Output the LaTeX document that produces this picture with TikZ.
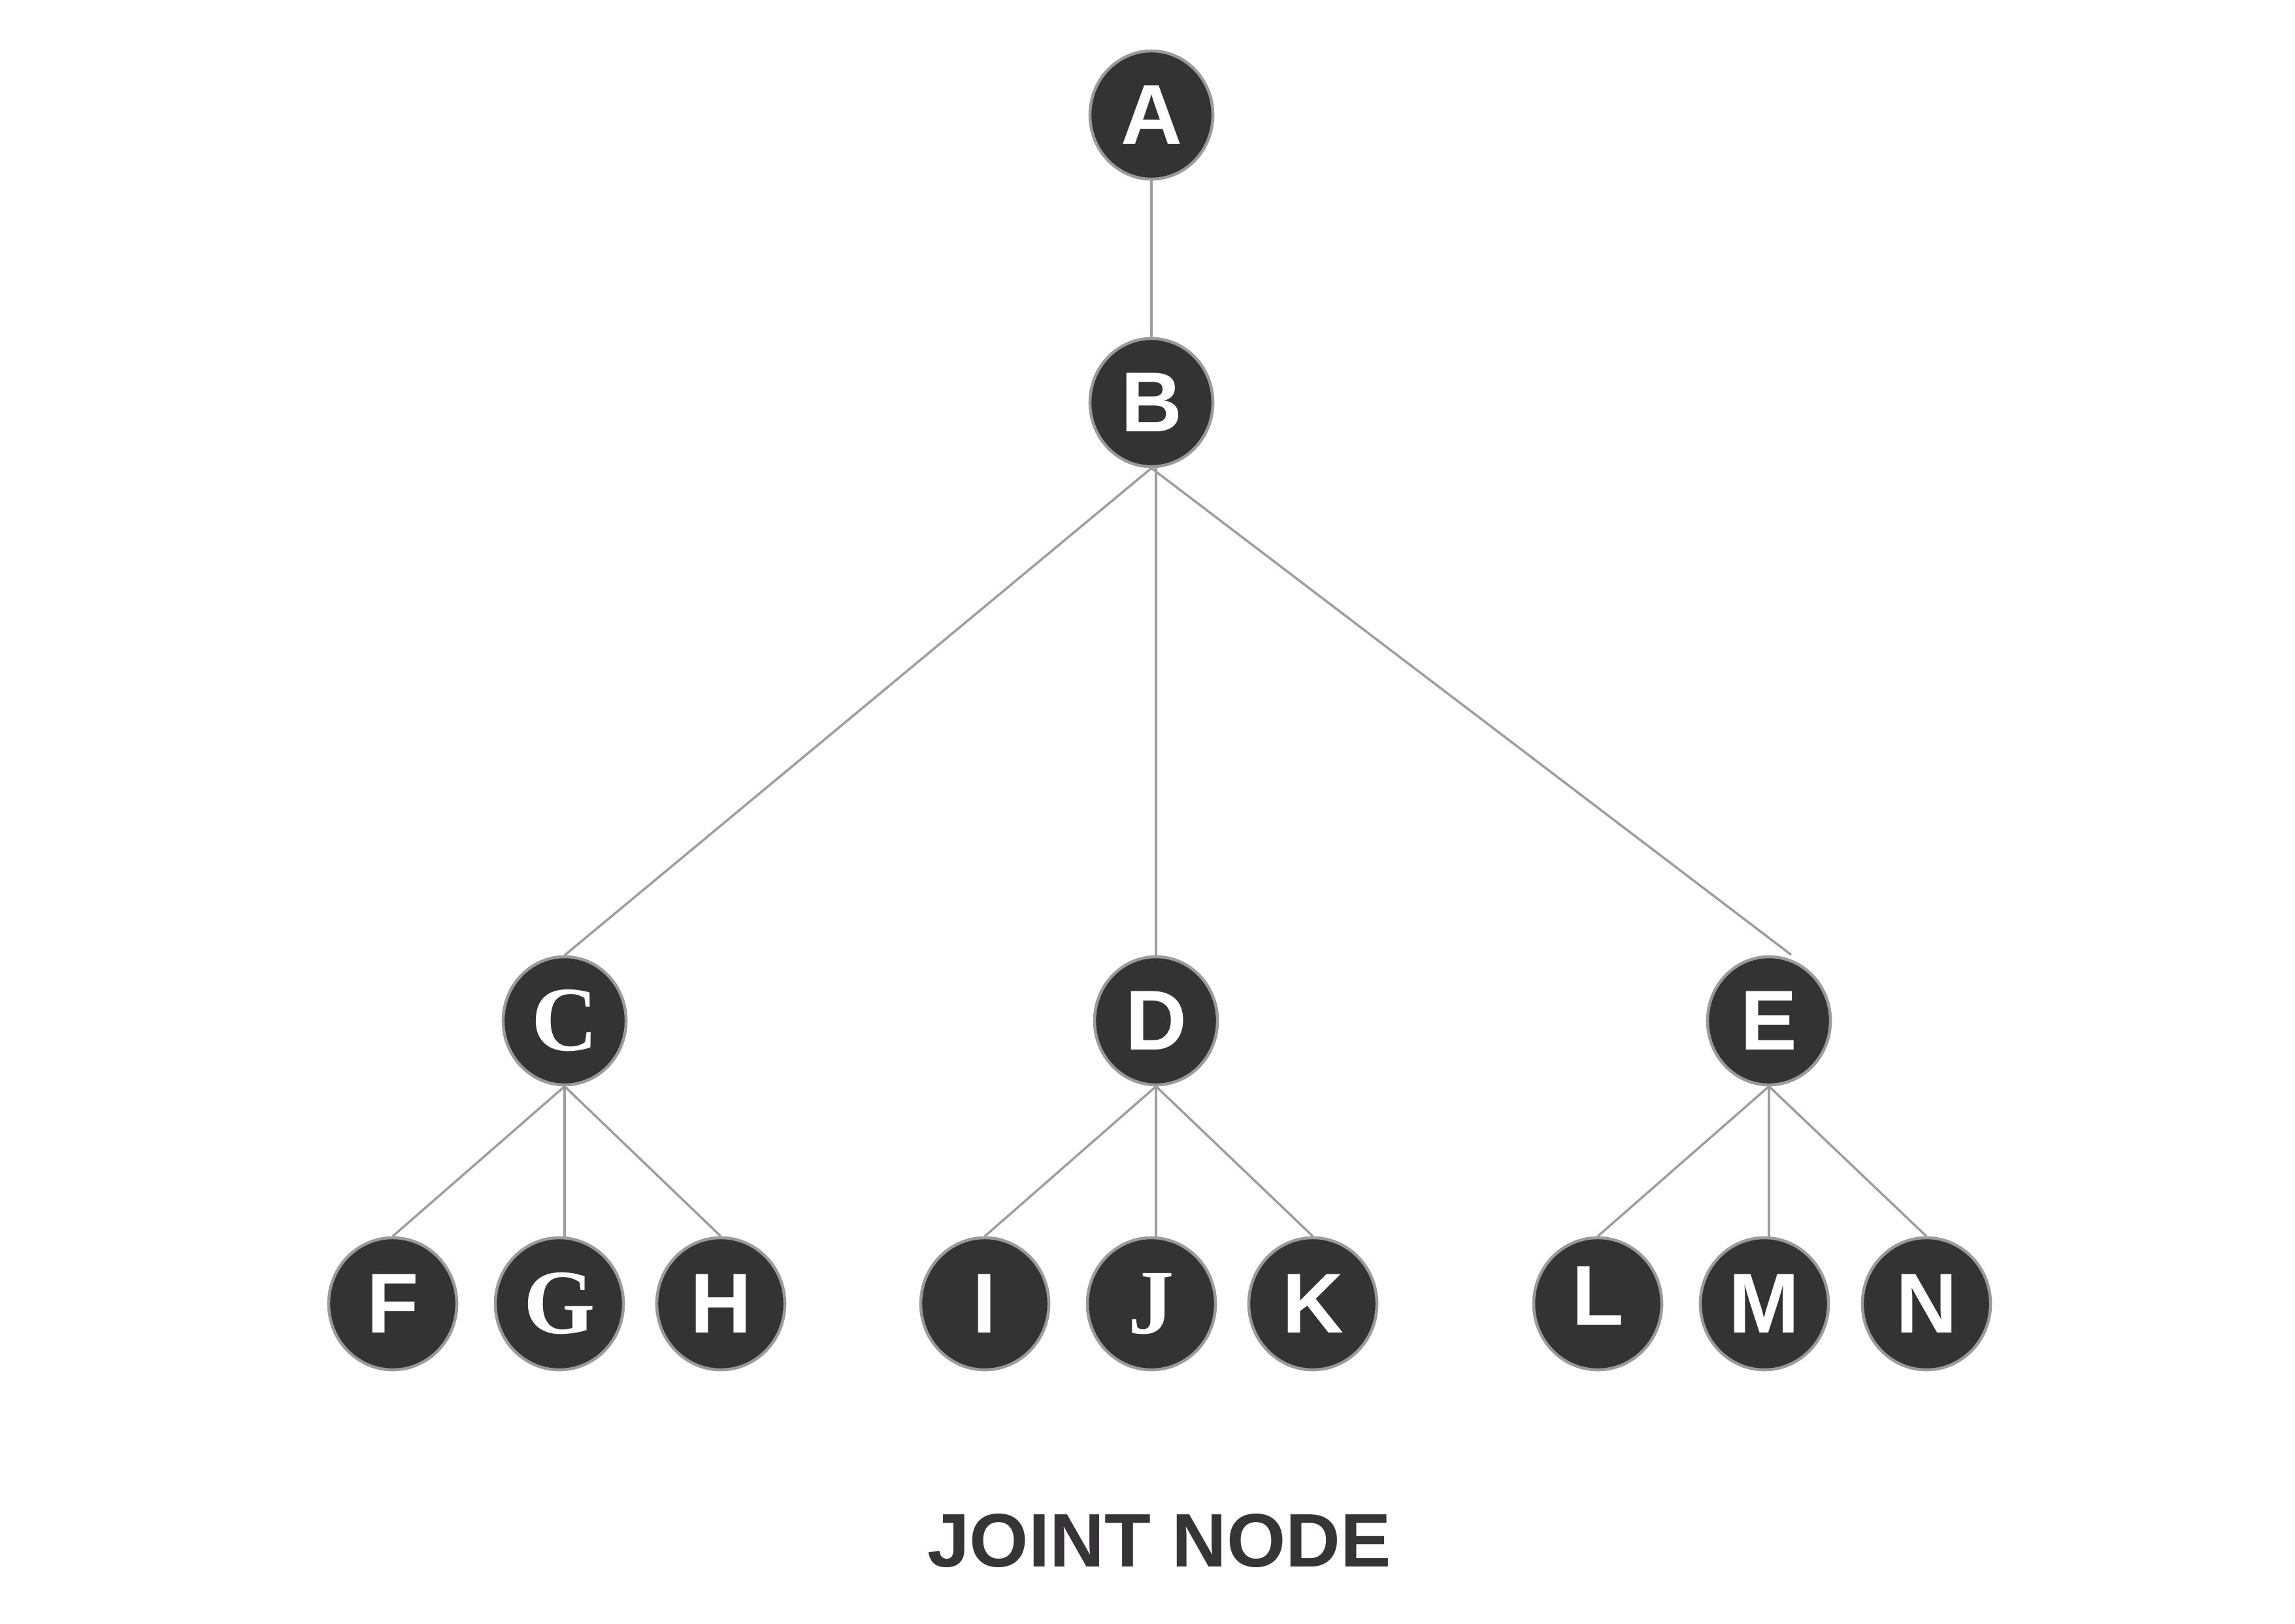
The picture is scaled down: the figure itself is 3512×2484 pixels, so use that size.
\documentclass[tikz,border=0pt]{standalone}
\usepackage{fontspec}
\setmainfont{Liberation Sans}
\newfontfamily\serifletter{Liberation Serif}
\usetikzlibrary{shapes.geometric}
\definecolor{nodefill}{HTML}{333333}
\definecolor{nodeedge}{HTML}{9A9A9A}
\definecolor{linkcol}{HTML}{9E9E9E}
\definecolor{titlecol}{HTML}{363436}
\tikzset{
  treenode/.style={ellipse, fill=nodefill, draw=nodeedge, line width=0.045cm,
    inner sep=0pt, text=white, font=\fontsize{37}{37}\selectfont\bfseries},
  midnode/.style={treenode, minimum width=1.88cm, minimum height=1.96cm},
  leafnode/.style={treenode, minimum width=1.96cm, minimum height=2.02cm},
  serifnode/.style={font=\fontsize{40}{40}\selectfont\serifletter\bfseries},
  link/.style={draw=linkcol, line width=0.035cm}
}
\begin{document}
\begin{tikzpicture}[x=0.01cm, y=-0.01cm]
\useasboundingbox (0,0) rectangle (3512,2484);
\fill[white] (0,0) rectangle (3512,2484);

% level 0 and 1
\node[midnode] (A) at (1762,176) {A};
\node[midnode] (B) at (1762,616) {B};
% level 2
\node[midnode, serifnode] (C) at (864,1562) {C};
\node[midnode] (D) at (1769,1562) {D};
\node[midnode] (E) at (2707,1562) {E};
% leaves
\node[leafnode] (F) at (601,1995) {F};
\node[leafnode, serifnode] (G) at (856,1995) {G};
\node[leafnode] (H) at (1103,1995) {H};
\node[leafnode] (I) at (1507,1995) {I};
\node[leafnode, serifnode] (J) at (1762,1995) {J};
\node[leafnode] (K) at (2009,1995) {K};
\node[leafnode] (L) at (2445,1995) {\raisebox{0.24cm}{L}};
\node[leafnode] (M) at (2700,1995) {M};
\node[leafnode] (N) at (2948,1995) {N};

\coordinate (Etop) at (2741,1461);

% connectors
\draw[link] (A.south) -- (B.north);
\draw[link] (B.south) -- (C.north);
\draw[link] (B.south -| D.north) -- (D.north);
\draw[link] (B.south) -- (Etop);

\draw[link] (C.south) -- (F.north);
\draw[link] (C.south) -- (C.south |- G.north);
\draw[link] (C.south) -- (H.north);

\draw[link] (D.south) -- (I.north);
\draw[link] (D.south) -- (D.south |- J.north);
\draw[link] (D.south) -- (K.north);

\draw[link] (E.south) -- (L.north);
\draw[link] (E.south) -- (E.south |- M.north);
\draw[link] (E.south) -- (N.north);

% title
\node[text=titlecol, font=\fontsize{33}{33}\selectfont\bfseries] (title) at (1774,2358) {JOINT NODE};
\end{tikzpicture}
\end{document}
